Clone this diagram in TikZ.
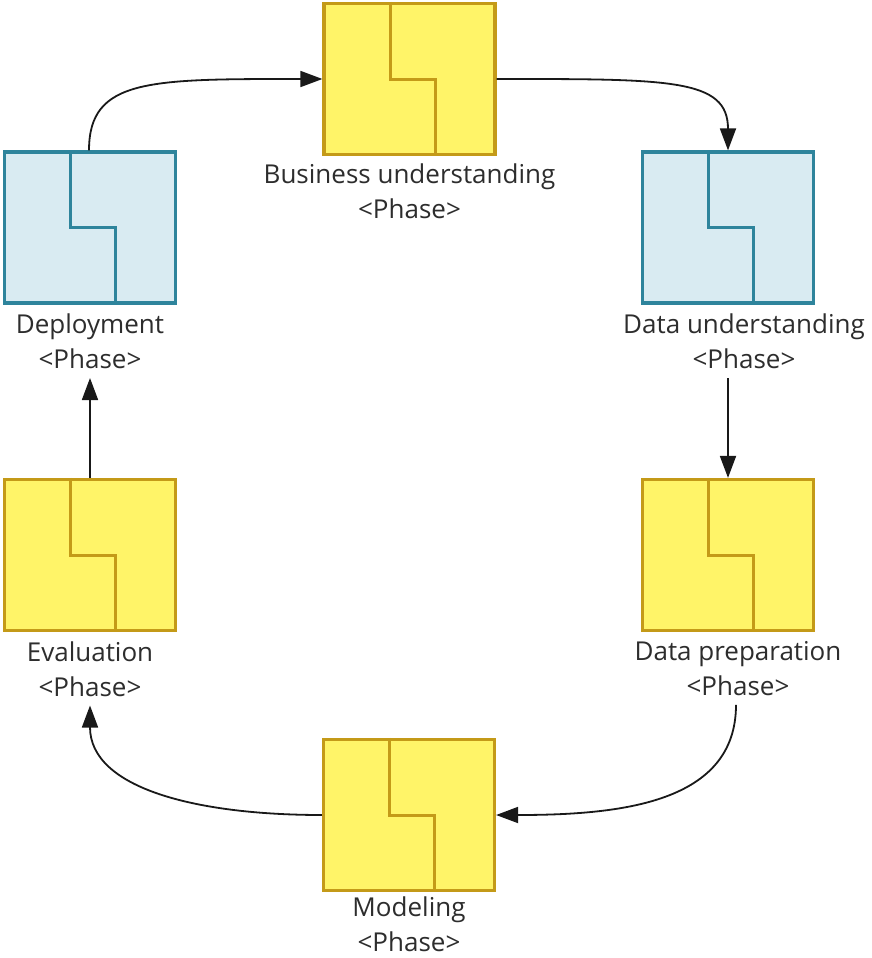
\documentclass[tikz,border=0pt]{standalone}
\usepackage{fontspec}
\setmainfont{Open Sans}
\usetikzlibrary{arrows.meta}
\definecolor{yfill}{RGB}{255,244,104}
\definecolor{yline}{RGB}{196,154,24}
\definecolor{bfill}{RGB}{217,235,242}
\definecolor{bline}{RGB}{46,132,156}
\definecolor{txt}{RGB}{45,45,45}
\definecolor{arrc}{RGB}{25,25,25}
\newcommand\phaseicon[2]{\draw[line width=3pt,#2] ([xshift=68pt]#1.north west) -- ([xshift=68pt]#1.west) -- ([xshift=113pt]#1.west) -- ([xshift=113pt]#1.south west);}
\begin{document}
\begin{tikzpicture}[x=1pt,y=-1pt,
  phase/.style={rectangle, minimum width=171pt, minimum height=151pt, inner sep=0pt, line width=3.2pt},
  ybox/.style={phase, draw=yline, fill=yfill},
  bbox/.style={phase, draw=bline, fill=bfill},
  lab/.style={font=\fontsize{26}{35}\selectfont, text=txt, align=center, inner xsep=0pt, inner ysep=9pt, anchor=north},
  arr/.style={draw=arrc, line width=1.8pt, -{Triangle[length=22pt,width=16pt]}},
]
\useasboundingbox (0,0) rectangle (872,958);
\fill[white] (0,0) rectangle (872,958);
\node[ybox] (bu) at (409.5,79) {};
\node[bbox] (dep) at (90,227.5) {};
\node[bbox] (du) at (728,227.5) {};
\node[ybox] (dp) at (728,555) {};
\node[ybox] (ev) at (90,555) {};
\node[ybox] (mod) at (409,815) {};
\phaseicon{bu}{yline}
\phaseicon{dep}{bline}
\phaseicon{du}{bline}
\phaseicon{dp}{yline}
\phaseicon{ev}{yline}
\phaseicon{mod}{yline}
\node[lab] (bulab) at ([yshift=2pt]bu.south) {Business understanding\\<Phase>};
\node[lab] (deplab) at (dep.south) {Deployment\\<Phase>};
\node[lab] (dulab) at ([xshift=16pt]dep.south -| du.south) {Data understanding\\<Phase>};
\node[lab] (dplab) at ([xshift=10pt]dp.south) {Data preparation\\<Phase>};
\node[lab] (evlab) at (ev.south) {Evaluation\\<Phase>};
\node[lab] (modlab) at ([yshift=5pt]mod.south) {Modeling\\<Phase>};
\draw[arr] ([xshift=-1pt]dep.north) .. controls +(0,-72) and +(-173,0) .. (bu.west);
\draw[arr] (bu.east) .. controls +(173,0) and +(0,-72) .. (du.north);
\draw[arr] (dulab.south -| dp.north) -- (dp.north);
\draw[arr] ([xshift=-2pt]dplab.south) .. controls +(0,98) and +(125,0) .. (mod.east);
\draw[arr] (mod.west) .. controls +(-125,0) and +(0,83) .. (evlab.south);
\draw[arr] (ev.north) -- (deplab.south);
\end{tikzpicture}
\end{document}
